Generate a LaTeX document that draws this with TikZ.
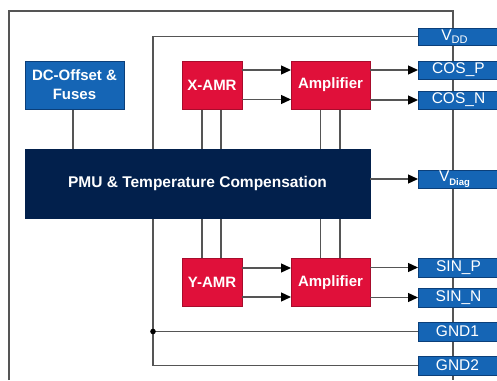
\documentclass[tikz,border=0pt]{standalone}
\usepackage{fontspec}
\setmainfont{Liberation Sans}
\usetikzlibrary{arrows.meta}
\definecolor{pinblue}{HTML}{1565B5}
\definecolor{pinedge}{HTML}{0B3F7A}
\definecolor{navy}{HTML}{02204C}
\definecolor{amrred}{HTML}{E0103A}
\definecolor{wire}{HTML}{555555}
\begin{document}
\begin{tikzpicture}[x=1pt,y=-1pt,
  wireline/.style={draw=wire,line width=1.3pt},
  arrline/.style={wireline,-{Triangle[length=10pt,width=9pt,color=black]}},
  boxbase/.style={rectangle,inner sep=0pt,outer sep=0pt,text=white,line width=0.8pt},
  pinbox/.style={boxbase,draw=pinedge,fill=pinblue,minimum width=81pt,font=\fontsize{15.5}{16}\selectfont},
  redbox/.style={boxbase,draw=amrred!75!black,fill=amrred,minimum height=48pt,font=\bfseries\fontsize{15}{16}\selectfont},
  bluebox/.style={boxbase,draw=pinedge,fill=pinblue,minimum width=99pt,minimum height=48pt,font=\bfseries\fontsize{15}{19}\selectfont,align=center},
  navybox/.style={boxbase,draw=navy,fill=navy,minimum width=345pt,minimum height=69pt,font=\bfseries\fontsize{15.5}{16}\selectfont}]
\useasboundingbox (0,0) rectangle (497,380);
\fill[white] (0,0) rectangle (497,380);
% outer frame
\coordinate (fbl) at (9,380);
\coordinate (ftl) at (9,11);
\coordinate (ftr) at (453,11);
\coordinate (fbr) at (453,380);
\draw[wireline] (fbl) -- (ftl) -- (ftr) -- (fbr);
% coordinates for wires
\coordinate (dot) at (153,331.5);
\coordinate (vtop) at (153,36.5);
\coordinate (vbot) at (153,365.5);
% wires behind blocks
\draw[wireline] (73,100) -- (73,160);
\draw[wireline] (202,100) -- (202,270);
\draw[wireline] (221,100) -- (221,270);
\draw[wireline] (320.5,100) -- (320.5,270);
\draw[wireline] (340,100) -- (340,270);
\draw[wireline] (153,160) -- (vtop) -- (430,36.5);
\draw[wireline] (153,200) -- (vbot) -- (430,365.5);
\draw[wireline] (dot) -- (430,331.5);
\fill[black] (dot) circle (2.8pt);
% blocks
\node[bluebox] (dc) at (74.5,85) {DC-Offset \&\\Fuses};
\node[redbox,minimum width=60pt] (xamr) at (212,85) {X-AMR};
\node[redbox,minimum width=79pt] (amp1) at (330.5,85) {Amplifier};
\node[navybox] (pmu) at (197.5,183.5) {PMU \& Temperature Compensation};
\node[redbox,minimum width=60pt] (yamr) at (212,282.5) {Y-AMR};
\node[redbox,minimum width=79pt] (amp2) at (330.5,282.5) {Amplifier};
% pins
\node[pinbox,minimum height=17pt] (vdd) at (458.5,36.5) {\hspace*{-8pt}V\raisebox{-0.3ex}{\fontsize{11}{11}\selectfont DD}};
\node[pinbox,minimum height=18pt] (cosp) at (458.5,70) {COS\_P};
\node[pinbox,minimum height=18pt] (cosn) at (458.5,100) {COS\_N};
\node[pinbox,minimum height=18pt] (vdiag) at (458.5,179) {\hspace*{-8pt}V\raisebox{-0.5ex}{\bfseries\fontsize{9.5}{9.5}\selectfont Diag}};
\node[pinbox,minimum height=19pt] (sinp) at (458.5,267.5) {SIN\_P};
\node[pinbox,minimum height=19pt] (sinn) at (458.5,297.5) {SIN\_N};
\node[pinbox,minimum height=19pt] (gnd1) at (458.5,331.5) {\hspace*{-2pt}GND1};
\node[pinbox,minimum height=19pt] (gnd2) at (458.5,365.5) {\hspace*{-2pt}GND2};
% arrows
\draw[arrline] (xamr.east |- 0,70) -- (amp1.west |- 0,70);
\draw[arrline] (xamr.east |- 0,99.5) -- (amp1.west |- 0,99.5);
\draw[arrline] (amp1.east |- cosp) -- (cosp.west);
\draw[arrline] (amp1.east |- cosn) -- (cosn.west);
\draw[arrline] (pmu.east |- 0,179) -- (vdiag.west);
\draw[arrline] (yamr.east |- 0,268) -- (amp2.west |- 0,268);
\draw[arrline] (yamr.east |- 0,297) -- (amp2.west |- 0,297);
\draw[arrline] (amp2.east |- sinp) -- (sinp.west);
\draw[arrline] (amp2.east |- sinn) -- (sinn.west);
\end{tikzpicture}
\end{document}
